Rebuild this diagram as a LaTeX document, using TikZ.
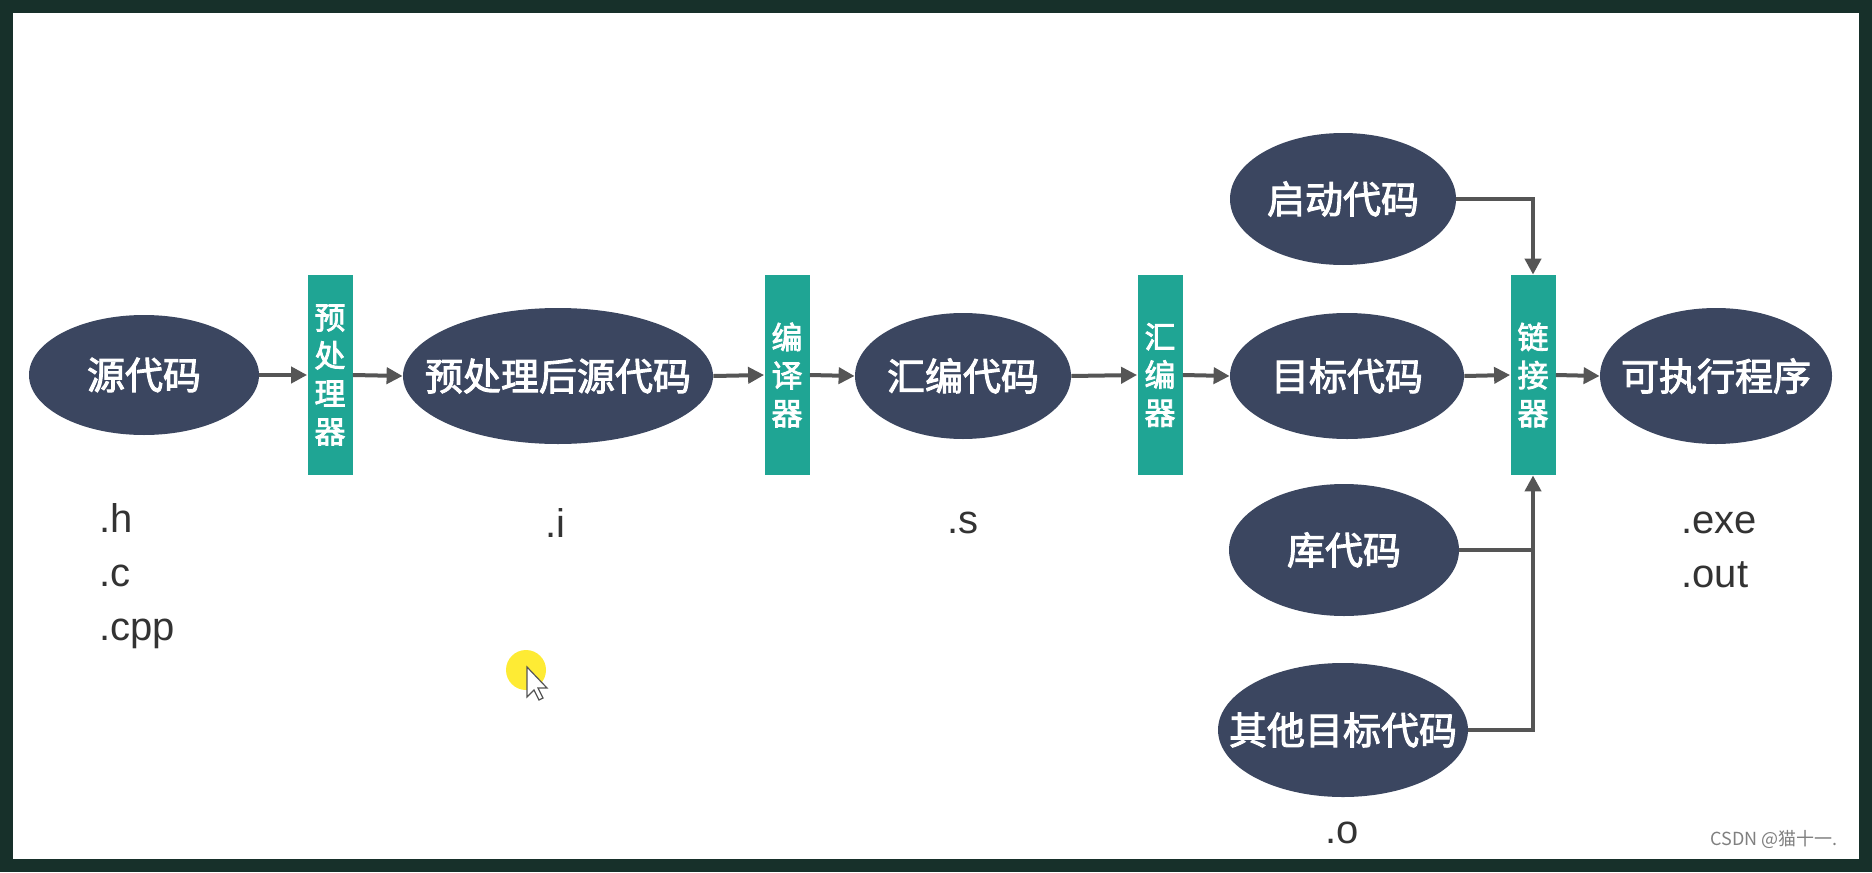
\documentclass[tikz,border=0pt]{standalone}
\usepackage{fontspec}
\setmainfont{Liberation Sans}
\newfontfamily\cjk{Noto Sans CJK SC}
\newfontfamily\cjkmid[FakeBold=2.5]{Noto Sans CJK SC}
\usepackage{tikz}
\usetikzlibrary{shapes.geometric, arrows.meta, positioning, calc}
\usepackage{xcolor}
\definecolor{flownavy}{HTML}{3B4660}
\definecolor{flowteal}{HTML}{1FA594}
\definecolor{flowgray}{HTML}{555555}
\definecolor{flowframe}{HTML}{17302A}
\definecolor{flowtext}{HTML}{333333}

% text that does not widen its ellipse
\newcommand{\stagetext}[1]{\makebox[0pt][c]{#1}}

\tikzset{
  stage/.style={ellipse, fill=flownavy, text=white, inner sep=0pt,
    font=\cjkmid\fontsize{19pt}{23pt}\selectfont},
  tool/.style={rectangle, fill=flowteal, text=white, inner sep=0pt,
    minimum width=22.5pt, minimum height=100pt, align=center,
    font=\cjkmid\fontsize{15.5pt}{19pt}\selectfont},
  flow/.style={draw=flowgray, line width=2pt, -{Triangle[length=8pt,width=8pt]}},
  ext/.style={text=flowtext, font=\fontsize{20pt}{27pt}\selectfont, align=left, inner sep=0pt}
}

\begin{document}
\begin{tikzpicture}[x=0.5pt, y=-0.5pt]
  % frame
  \fill[flowframe] (0,0) rectangle (1872,872);
  \fill[white] (13,13) rectangle (1859,859);
  \useasboundingbox (0,0) rectangle (1872,872);

  % main chain
  \node[stage, minimum width=115pt, minimum height=60pt] (src) at (144,375) {\stagetext{源代码}};
  \node[tool] (prep) at (330,375) {预\\处\\理\\器};
  \node[stage, minimum width=155pt, minimum height=68pt] (prei) at (558,376) {\stagetext{预处理后源代码}};
  \node[tool] (comp) at (787,375) {编\\译\\器};
  \node[stage, minimum width=108pt, minimum height=63pt] (asm) at (963,376) {\stagetext{汇编代码}};
  \node[tool] (asmb) at (1160,375) {汇\\编\\器};
  \node[stage, minimum width=117pt, minimum height=63pt] (obj) at (1347,376) {\stagetext{目标代码}};
  \node[tool] (link) at (1533,375) {链\\接\\器};
  \node[stage, minimum width=116pt, minimum height=68pt] (exe) at (1716,376) {\stagetext{可执行程序}};

  % linker inputs
  \node[stage, minimum width=113pt, minimum height=66pt] (start) at (1343,199) {\stagetext{启动代码}};
  \node[stage, minimum width=115pt, minimum height=66pt] (lib) at (1344,550) {\stagetext{库代码}};
  \node[stage, minimum width=125pt, minimum height=67pt] (other) at (1343,730) {\stagetext{其他目标代码}};

  % arrows
  \draw[flow] (src.east) -- (prep.west);
  \draw[flow] (prep.east) -- (prei.west);
  \draw[flow] (prei.east) -- (comp.west);
  \draw[flow] (comp.east) -- (asm.west);
  \draw[flow] (asm.east) -- (asmb.west);
  \draw[flow] (asmb.east) -- (obj.west);
  \draw[flow] (obj.east) -- (link.west);
  \draw[flow] (link.east) -- (exe.west);
  \draw[flow] (start.east) -| (link.north);
  \draw[flow] (other.east) -| (link.south);
  \draw[draw=flowgray, line width=2pt] (lib.east) -- (lib.east -| link.south);

  % file suffixes
  \node[ext, anchor=west] (srcext) at (99,576) {.h\\.c\\.cpp};
  \node[ext] (preiext) at (555,523) {.i};
  \node[ext] (asmext) at (963,523) {.s};
  \node[ext, anchor=west] (exeext) at (1681,550) {.exe\\.out};
  \node[ext] (objext) at (1342,833) {.o};

  % cursor
  \fill[yellow!90!orange, opacity=0.8] (526,670) circle (20);
  \filldraw[fill=white, draw=flowgray, line width=0.6pt]
    (527,667) -- (527,697) -- (534,690) -- (539,700) -- (543,698) -- (538,688) -- (547,688) -- cycle;

  % watermark
  \node[anchor=east, text=gray, font=\cjk\fontsize{9pt}{11pt}\selectfont] (mark) at (1845,839) {CSDN @猫十一.};
\end{tikzpicture}
\end{document}
